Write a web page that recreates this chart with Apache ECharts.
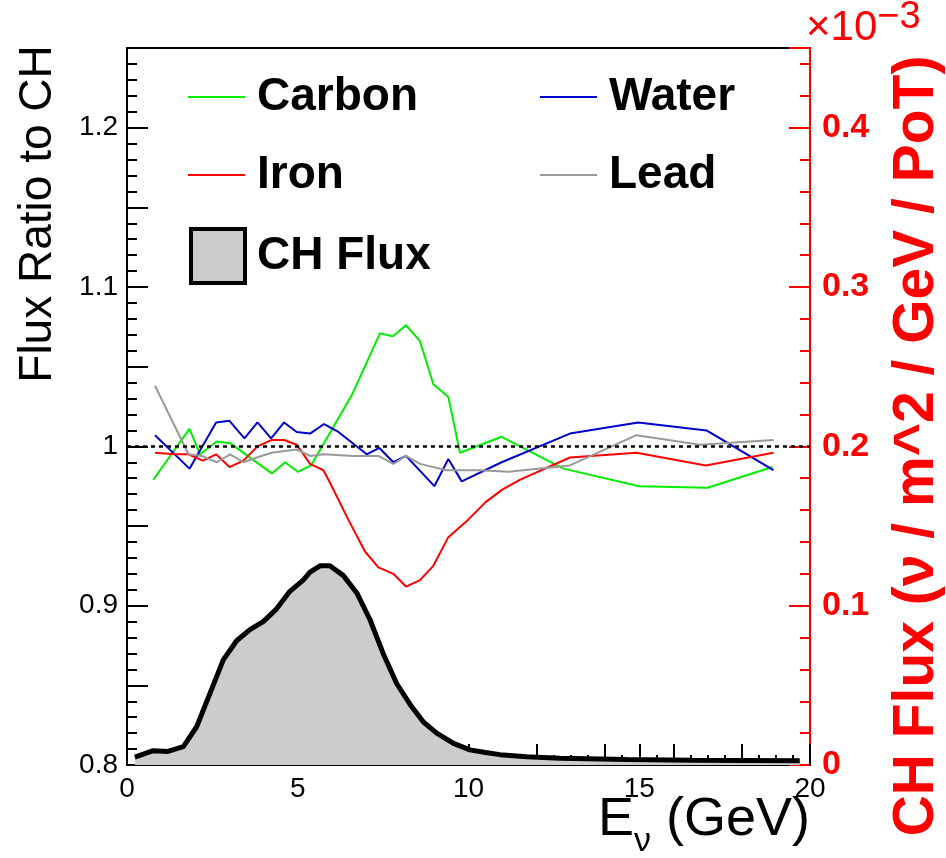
<!DOCTYPE html>
<html>
<head>
<meta charset="utf-8">
<script src="https://cdn.jsdelivr.net/npm/echarts@6/dist/echarts.min.js"></script>
<style>
  html, body { margin: 0; padding: 0; background: #fff; }
  #chart { width: 946px; height: 858px; }
</style>
</head>
<body>
<div id="chart"></div>
<script>
// [E (GeV), ratio to CH]
var carbon = [[0.77, 0.979], [1.83, 1.011], [2.14, 0.995], [2.63, 1.003], [3.02, 1.002], [4.24, 0.983], [4.63, 0.990], [5.0, 0.984], [5.39, 0.988], [6.58, 1.032], [7.41, 1.071], [7.78, 1.069], [8.17, 1.076], [8.58, 1.066], [8.97, 1.039], [9.41, 1.031], [9.75, 0.996], [10.97, 1.006], [12.78, 0.986], [15.0, 0.975], [17.0, 0.974], [18.9, 0.987]];
var water = [[0.82, 1.007], [1.83, 0.986], [2.61, 1.015], [3.0, 1.016], [3.44, 1.005], [3.82, 1.015], [4.22, 1.005], [4.6, 1.015], [4.97, 1.009], [5.36, 1.008], [5.77, 1.014], [6.19, 1.009], [7.02, 0.995], [7.39, 0.999], [7.8, 0.990], [8.17, 0.994], [9.0, 0.975], [9.41, 0.992], [9.8, 0.978], [10.97, 0.990], [12.97, 1.008], [14.97, 1.015], [16.97, 1.010], [18.93, 0.985]];
var iron = [[0.82, 0.996], [1.4, 0.995], [1.8, 0.995], [2.22, 0.991], [2.61, 0.995], [3.0, 0.987], [3.41, 0.991], [3.82, 1.0], [4.24, 1.004], [4.6, 1.004], [4.97, 1.001], [5.36, 0.989], [5.75, 0.985], [5.9, 0.979], [6.48, 0.954], [6.97, 0.934], [7.36, 0.924], [7.8, 0.920], [8.17, 0.912], [8.58, 0.916], [8.97, 0.925], [9.41, 0.943], [9.99, 0.954], [10.5, 0.965], [11.0, 0.973], [11.5, 0.979], [12.97, 0.993], [14.92, 0.996], [16.95, 0.988], [18.93, 0.996]];
var lead = [[0.82, 1.038], [1.8, 0.995], [2.19, 0.994], [2.63, 0.990], [3.02, 0.995], [3.41, 0.990], [3.8, 0.993], [4.24, 0.996], [4.97, 0.998], [5.36, 0.994], [5.77, 0.995], [6.63, 0.994], [7.36, 0.994], [7.8, 0.989], [8.17, 0.994], [8.58, 0.989], [9.36, 0.985], [10.34, 0.985], [11.17, 0.984], [12.97, 0.988], [14.92, 1.007], [16.78, 1.001], [18.93, 1.004]];
// CH flux, units of 1e-3 nu / m^2 / GeV / PoT
var chFlux = [[0.23, 0.005], [0.5, 0.007], [0.77, 0.009], [1.2, 0.0085], [1.65, 0.0115], [2.04, 0.024], [2.43, 0.045], [2.82, 0.066], [3.21, 0.078], [3.6, 0.085], [3.99, 0.090], [4.38, 0.098], [4.77, 0.109], [5.16, 0.116], [5.36, 0.121], [5.65, 0.125], [5.94, 0.125], [6.33, 0.119], [6.73, 0.108], [7.12, 0.091], [7.5, 0.070], [7.9, 0.051], [8.29, 0.038], [8.68, 0.027], [9.07, 0.020], [9.56, 0.0136], [10.04, 0.0095], [10.5, 0.0078], [10.92, 0.0065], [11.7, 0.0052], [12.68, 0.0042], [14.63, 0.0035], [16.5, 0.003], [19.7, 0.0027]];
var refLine = 1.0;

var FONT = "'Liberation Sans', Arial, sans-serif";

var chartDom = document.getElementById('chart');
var myChart = echarts.init(chartDom);

function lineSeries(name, data, color) {
    return {
        name: name,
        type: 'line',
        data: data,
        xAxisIndex: 0,
        yAxisIndex: 0,
        symbol: 'none',
        lineStyle: { color: color, width: 2 },
        itemStyle: { color: color },
        z: 3
    };
}

function legendItem(name, left, top, extra) {
    var l = {
        data: [name],
        left: left,
        top: top,
        padding: 0,
        icon: 'rect',
        itemWidth: 57,
        itemHeight: 2,
        selectedMode: false,
        textStyle: {
            fontFamily: FONT,
            fontSize: 46,
            fontWeight: 'bold',
            color: '#000',
            padding: [0, 0, 0, 7]
        }
    };
    for (var k in extra) l[k] = extra[k];
    return l;
}

var option = {
    backgroundColor: '#fff',
    animation: false,
    grid: {
        left: 127,
        right: 136,
        top: 48,
        bottom: 93,
        show: true,
        borderColor: '#000',
        borderWidth: 2
    },
    legend: [
        legendItem('Carbon', 188, 74),
        legendItem('Water', 540, 74),
        legendItem('Iron', 188, 152),
        legendItem('Lead', 540, 152),
        legendItem('CH Flux', 189, 227, {
            itemWidth: 54,
            itemHeight: 54,
            data: [{
                name: 'CH Flux',
                icon: 'rect',
                itemStyle: { color: '#cccccc', borderColor: '#000', borderWidth: 4 }
            }]
        })
    ],
    xAxis: [
        {
            type: 'value',
            min: 0,
            max: 20,
            interval: 2,
            position: 'bottom',
            axisLine: { onZero: false, lineStyle: { color: '#000', width: 2 } },
            axisTick: { inside: true, length: 21, lineStyle: { color: '#000', width: 2 } },
            minorTick: { show: true, splitNumber: 4, length: 10, lineStyle: { color: '#000', width: 2 } },
            axisLabel: { show: false },
            splitLine: { show: false }
        },
        {
            type: 'value',
            min: 0,
            max: 20,
            interval: 5,
            position: 'bottom',
            axisLine: { show: false, onZero: false },
            axisTick: { inside: true, length: 21, lineStyle: { color: '#000', width: 2 } },
            axisLabel: { fontFamily: FONT, fontSize: 28, color: '#000', margin: 10 },
            splitLine: { show: false }
        }
    ],
    yAxis: [
        {
            type: 'value',
            position: 'left',
            min: 0.8,
            max: 1.25,
            interval: 0.05,
            axisLine: { show: true, onZero: false, lineStyle: { color: '#000', width: 2 } },
            axisTick: { inside: true, length: 21, lineStyle: { color: '#000', width: 2 } },
            minorTick: { show: true, splitNumber: 5, length: 10, lineStyle: { color: '#000', width: 2 } },
            axisLabel: {
                fontFamily: FONT,
                fontSize: 28,
                color: '#000',
                margin: 9,
                formatter: function (v) {
                    var t = v * 10;
                    if (Math.abs(t - Math.round(t)) > 1e-6 || v > 1.21) return '';
                    return String(+v.toFixed(2));
                }
            },
            splitLine: { show: false }
        },
        {
            type: 'value',
            position: 'right',
            min: 0,
            max: 0.45,
            interval: 0.1,
            axisLine: { show: true, onZero: false, lineStyle: { color: '#ff0000', width: 2 } },
            axisTick: { inside: true, length: 21, lineStyle: { color: '#ff0000', width: 2 } },
            minorTick: { show: true, splitNumber: 5, length: 10, lineStyle: { color: '#ff0000', width: 2 } },
            axisLabel: {
                fontFamily: FONT,
                fontSize: 34,
                fontWeight: 'bold',
                color: '#ff0000',
                margin: 12,
                formatter: function (v) {
                    var t = v * 10;
                    if (Math.abs(t - Math.round(t)) > 1e-6) return '';
                    return String(+v.toFixed(2));
                }
            },
            splitLine: { show: false }
        }
    ],
    graphic: [
        {
            type: 'text',
            x: 38,
            y: 214,
            rotation: Math.PI / 2,
            style: {
                text: 'Flux Ratio to CH',
                fontFamily: FONT,
                fontSize: 46,
                fill: '#000',
                align: 'center',
                verticalAlign: 'middle'
            }
        },
        {
            type: 'text',
            x: 917,
            y: 446,
            rotation: Math.PI / 2,
            style: {
                text: 'CH Flux (ν / m^2 / GeV / PoT)',
                fontFamily: FONT,
                fontSize: 57,
                fontWeight: 'bold',
                fill: '#ff0000',
                align: 'center',
                verticalAlign: 'middle'
            }
        },
        {
            type: 'text',
            x: 810,
            y: 820,
            style: {
                text: '{a|E}{b|ν}{a| (GeV)}',
                align: 'right',
                verticalAlign: 'middle',
                rich: {
                    a: { fontFamily: FONT, fontSize: 54, fill: '#000', lineHeight: 78 },
                    b: { fontFamily: FONT, fontSize: 34, fill: '#000', lineHeight: 36, verticalAlign: 'bottom' }
                }
            }
        },
        {
            type: 'text',
            x: 806,
            y: 24,
            style: {
                text: '{a|×10}{s|−3}',
                align: 'left',
                verticalAlign: 'middle',
                rich: {
                    a: { fontFamily: FONT, fontSize: 42, fill: '#ff0000', lineHeight: 50, verticalAlign: 'bottom' },
                    s: { fontFamily: FONT, fontSize: 38, fill: '#ff0000', lineHeight: 36, verticalAlign: 'top' }
                }
            }
        }
    ],
    series: [
        {
            name: 'CH Flux',
            type: 'line',
            data: chFlux,
            xAxisIndex: 0,
            yAxisIndex: 1,
            symbol: 'none',
            lineStyle: { color: '#000', width: 5 },
            itemStyle: { color: '#cccccc', borderColor: '#000' },
            areaStyle: { color: '#cccccc', opacity: 1, origin: 'start' },
            z: 1
        },
        lineSeries('Carbon', carbon, '#00ee00'),
        lineSeries('Water', water, '#0000cc'),
        lineSeries('Iron', iron, '#ff0000'),
        (function () {
            var s = lineSeries('Lead', lead, '#999999');
            s.markLine = {
                silent: true,
                symbol: 'none',
                label: { show: false },
                lineStyle: { color: '#000', width: 2.5, type: [4, 4] },
                data: [{ yAxis: refLine }]
            };
            return s;
        })()
    ]
};

myChart.setOption(option);
window.addEventListener('resize', function () {
    myChart.resize();
});
</script>
</body>
</html>
